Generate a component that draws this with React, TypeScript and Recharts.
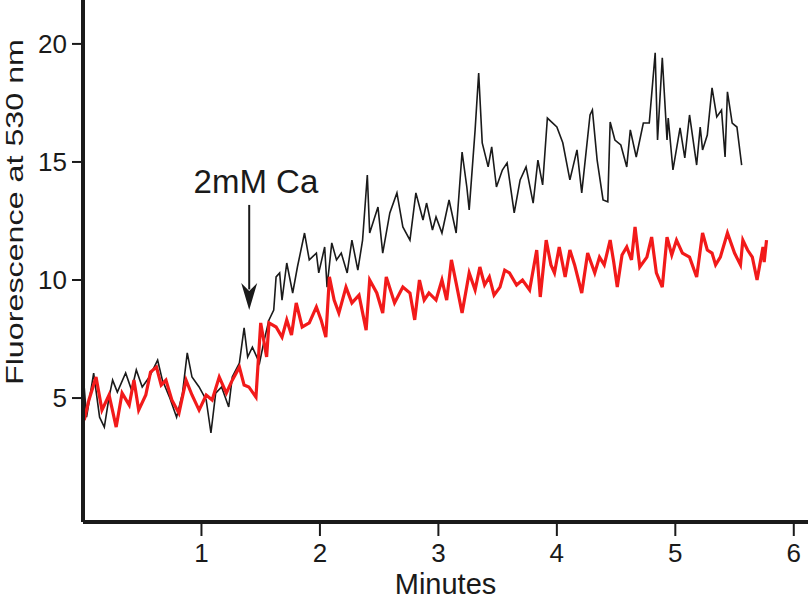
import { Line, LineChart, ReferenceDot, ReferenceLine, XAxis, YAxis } from 'recharts'

// black trace, minutes / fluorescence
const blackTime = [
  0.01, 0.03, 0.09, 0.14, 0.18, 0.22, 0.25, 0.29, 0.36, 0.41, 0.45, 0.5, 0.56, 0.63, 0.67, 0.73,
  0.79, 0.84, 0.88, 0.92, 0.98, 1.04, 1.08, 1.12, 1.17, 1.23, 1.26, 1.32, 1.36, 1.39, 1.43, 1.49,
  1.53, 1.57, 1.61, 1.63, 1.66, 1.68, 1.72, 1.77, 1.81, 1.87, 1.91, 1.97, 1.99, 2.04, 2.06, 2.1,
  2.14, 2.18, 2.23, 2.27, 2.32, 2.36, 2.4, 2.42, 2.49, 2.53, 2.59, 2.65, 2.7, 2.76, 2.81, 2.87,
  2.9, 2.95, 2.98, 3.03, 3.09, 3.15, 3.2, 3.24, 3.26, 3.31, 3.34, 3.37, 3.42, 3.45, 3.49, 3.54,
  3.58, 3.64, 3.69, 3.74, 3.8, 3.84, 3.88, 3.92, 4.0, 4.05, 4.11, 4.17, 4.21, 4.28, 4.3, 4.34,
  4.39, 4.43, 4.45, 4.49, 4.54, 4.59, 4.62, 4.67, 4.73, 4.78, 4.83, 4.85, 4.89, 4.93, 4.94, 4.98,
  5.04, 5.08, 5.12, 5.18, 5.21, 5.23, 5.27, 5.31, 5.35, 5.39, 5.42, 5.44, 5.48, 5.52, 5.56,
]
const blackValue = [
  5.47, 4.19, 6.06, 4.19, 3.77, 5.04, 5.76, 5.25, 6.06, 5.34, 6.19, 5.47, 5.89, 6.61, 5.76, 5.04,
  4.19, 5.21, 6.91, 5.89, 5.47, 4.92, 3.52, 5.21, 5.47, 4.62, 5.89, 6.48, 7.97, 6.74, 7.16, 6.48,
  7.46, 8.31, 8.73, 10.13, 10.3, 9.15, 10.72, 9.45, 10.55, 11.99, 10.85, 11.14, 10.3, 11.4, 9.7, 11.57,
  10.85, 11.14, 10.3, 11.69, 10.42, 11.69, 14.45, 11.99, 13.09, 11.14, 12.84, 13.69, 12.25, 11.69, 13.69, 12.54,
  13.26, 12.12, 12.67, 11.99, 13.39, 11.99, 15.42, 13.94, 12.97, 16.36, 18.77, 15.81, 14.79, 15.64, 13.94, 14.66,
  14.96, 12.84, 14.24, 14.79, 13.26, 15.08, 14.03, 16.86, 16.48, 15.81, 14.24, 15.51, 13.69, 16.99, 17.2, 15.08,
  13.39, 13.31, 16.69, 15.93, 15.72, 14.79, 16.36, 15.21, 16.65, 16.65, 19.62, 15.93, 19.41, 15.93, 16.86, 14.66,
  16.44, 15.17, 16.99, 14.87, 16.48, 15.51, 16.14, 18.14, 16.91, 17.2, 15.21, 17.97, 16.65, 16.48, 14.87,
]

// red trace
const redTime = [
  0.01, 0.05, 0.11, 0.16, 0.22, 0.28, 0.33, 0.39, 0.43, 0.47, 0.53, 0.57, 0.62, 0.66, 0.7, 0.75,
  0.81, 0.87, 0.92, 0.98, 1.04, 1.09, 1.15, 1.21, 1.26, 1.32, 1.36, 1.4, 1.46, 1.5, 1.55, 1.57,
  1.63, 1.68, 1.72, 1.76, 1.8, 1.85, 1.91, 1.97, 2.01, 2.05, 2.08, 2.12, 2.16, 2.22, 2.27, 2.33,
  2.39, 2.42, 2.48, 2.53, 2.56, 2.63, 2.7, 2.76, 2.8, 2.84, 2.88, 2.92, 2.98, 3.03, 3.07, 3.11,
  3.15, 3.2, 3.26, 3.31, 3.35, 3.39, 3.43, 3.47, 3.52, 3.56, 3.6, 3.66, 3.71, 3.77, 3.83, 3.86,
  3.91, 3.95, 3.98, 4.02, 4.07, 4.11, 4.15, 4.21, 4.26, 4.32, 4.36, 4.4, 4.45, 4.48, 4.51, 4.55,
  4.59, 4.63, 4.66, 4.7, 4.76, 4.8, 4.84, 4.89, 4.93, 4.97, 5.01, 5.06, 5.12, 5.18, 5.23, 5.27,
  5.31, 5.34, 5.38, 5.44, 5.5, 5.55, 5.57, 5.61, 5.65, 5.69, 5.74, 5.75, 5.77,
]
const redValue = [
  4.07, 4.92, 5.89, 4.49, 5.13, 3.77, 5.21, 4.7, 5.76, 4.49, 5.13, 6.1, 6.31, 5.55, 5.76, 4.92,
  4.36, 5.76, 5.13, 4.49, 5.13, 4.92, 5.89, 5.21, 5.76, 6.31, 5.55, 5.47, 5.04, 8.18, 6.74, 8.18,
  8.01, 7.58, 8.31, 7.67, 9.03, 8.01, 8.18, 8.86, 8.31, 7.58, 10.13, 9.15, 8.6, 9.7, 9.03, 9.36,
  7.88, 10.0, 9.45, 8.6, 10.13, 9.03, 9.7, 9.45, 8.31, 10.0, 9.15, 9.45, 9.15, 10.0, 9.15, 10.85,
  9.87, 8.6, 10.3, 9.58, 10.55, 9.79, 10.13, 9.36, 9.7, 10.42, 10.3, 9.79, 10.0, 9.58, 11.27, 9.28,
  11.69, 10.64, 10.3, 11.4, 10.13, 11.27, 10.64, 9.45, 11.14, 10.3, 10.97, 10.64, 11.69, 10.76, 9.7, 11.06,
  11.4, 10.85, 12.25, 10.55, 10.97, 11.82, 10.3, 9.7, 11.82, 11.06, 11.69, 11.14, 10.97, 10.13, 11.99, 11.27,
  11.14, 10.64, 10.97, 11.99, 11.14, 10.64, 11.69, 11.27, 10.97, 10.0, 11.4, 10.76, 11.69,
]

const xTicks = [1, 2, 3, 4, 5, 6]
const yTicks = [5, 10, 15, 20]

// where calcium was added
const caTime = 1.403
const caLabel = '2mM Ca'

const blackData = blackTime.map((t, i) => ({ t, v: blackValue[i] }))
const redData = redTime.map((t, i) => ({ t, v: redValue[i] }))

const ink = '#1a1a1a'
const font = '"Liberation Sans", Arial, sans-serif'

export default function App() {
  return (
    <div style={{ position: 'absolute', left: 0, top: 0, background: '#fff' }}>
      <LineChart
        width={810}
        height={600}
        margin={{ top: 0, right: 2, bottom: 0, left: 0 }}
        style={{ fontFamily: font }}
      >
        <XAxis
          dataKey="t"
          type="number"
          domain={[0, 6.12]}
          ticks={xTicks}
          allowDataOverflow
          height={78}
          axisLine={{ stroke: ink, strokeWidth: 4 }}
          tickLine={{ stroke: ink, strokeWidth: 2 }}
          tickSize={14}
          tickMargin={8}
          tick={{ fill: ink, fontSize: 26 }}
          label={{ value: 'Minutes', position: 'insideBottom', offset: 6, fontSize: 29, fill: ink }}
        />
        <YAxis
          type="number"
          domain={[-0.25, 21.86]}
          ticks={yTicks}
          allowDataOverflow
          width={83}
          axisLine={{ stroke: ink, strokeWidth: 4 }}
          tickLine={{ stroke: ink, strokeWidth: 2 }}
          tickSize={11}
          tickMargin={5}
          tick={{ fill: ink, fontSize: 26 }}
          label={() => (
            <text
              transform="translate(23,212) rotate(-90)"
              textAnchor="middle"
              fontSize={24}
              fill={ink}
              textLength={346}
              lengthAdjust="spacingAndGlyphs"
            >
              Fluorescence at 530 nm
            </text>
          )}
        />
        <Line
          data={blackData}
          dataKey="v"
          stroke={ink}
          strokeWidth={1.6}
          dot={false}
          isAnimationActive={false}
        />
        <Line
          data={redData}
          dataKey="v"
          stroke="#f21a1a"
          strokeWidth={3.2}
          dot={false}
          isAnimationActive={false}
        />
        <ReferenceLine
          segment={[
            { x: caTime, y: 13.18 },
            { x: caTime, y: 9.6 },
          ]}
          stroke={ink}
          strokeWidth={2}
        />
        <ReferenceDot
          x={caTime}
          y={8.73}
          r={0}
          shape={(p: any) => (
            <path
              d={`M${p.cx},${p.cy} L${p.cx - 8},${p.cy - 27} L${p.cx},${p.cy - 19} L${p.cx + 8},${p.cy - 27} Z`}
              fill={ink}
            />
          )}
        />
        <ReferenceDot
          x={1.46}
          y={13.69}
          r={0}
          shape={(p: any) => (
            <text x={p.cx} y={p.cy} textAnchor="middle" fontSize={33} fill={ink}>
              {caLabel}
            </text>
          )}
        />
      </LineChart>
    </div>
  )
}
